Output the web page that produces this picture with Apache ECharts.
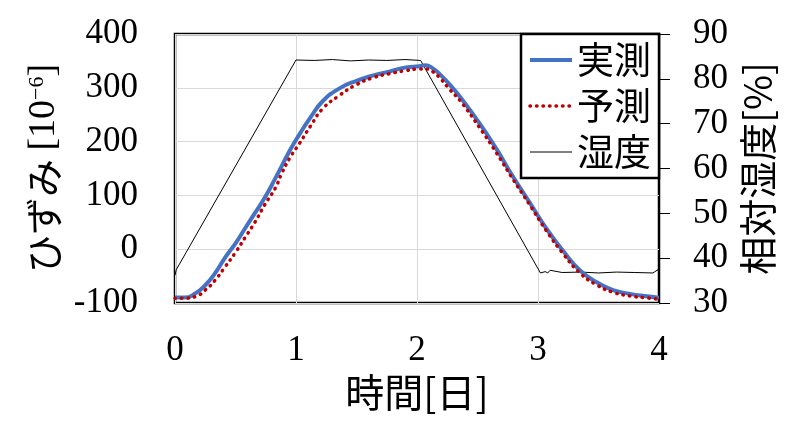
<!DOCTYPE html>
<html><head><meta charset="utf-8">
<script src="https://cdn.jsdelivr.net/npm/echarts@6/dist/echarts.min.js"></script>
<style>html,body{margin:0;padding:0;background:#fff;}#c{width:800px;height:429px;}</style>
</head><body><div id="c"></div>
<script>
// time [day]
const tMeasured = [0,0.08,0.17,0.25,0.33,0.41,0.50,0.58,0.66,0.74,0.83,0.95,1.03,1.12,1.22,1.36,1.50,1.64,1.77,1.91,2.02,2.07,2.13,2.19,2.27,2.36,2.52,2.66,2.79,2.93,3.07,3.21,3.35,3.49,3.62,3.76,3.88,4.0];
const strainMeasured = [-90,-90,-82,-67,-45,-17,11,39,67,95,132,184,214,245,275,299,313,323,330,338,340,342,336,325,306,282,233,185,136,87,38,-4,-40,-62,-76,-83,-87,-90];
const tPredicted = [0,0.08,0.17,0.25,0.33,0.41,0.50,0.58,0.66,0.74,0.83,0.88,0.95,1.03,1.12,1.22,1.36,1.50,1.64,1.77,1.91,2.02,2.07,2.13,2.19,2.27,2.36,2.52,2.66,2.79,2.93,3.07,3.21,3.35,3.49,3.62,3.76,3.88,4.0];
const strainPredicted = [-91,-91,-88,-76,-58,-34,-6,22,50,82,114,140,170,197,229,261,286,306,319,326,332,335,335,330,318,297,275,225,178,131,83,34,-9,-45,-67,-80,-87,-90,-93];
const tHumidity = [0,0.01,0.02,1.0,1.15,1.3,1.45,1.6,1.75,1.9,2.03,3.02,3.06,3.08,3.10,3.2,3.35,3.5,3.65,3.8,3.95,3.99,4.0];
const humidity = [36.2,37.4,37.0,84.2,84.1,84.3,84.0,84.2,84.1,84.3,84.1,36.7,37.0,36.7,37.3,36.8,36.9,36.7,36.9,36.8,36.7,37.4,36.8];
const xTicks = [0,1,2,3,4];
const seriesNames = ['実測','予測','湿度'];

const zip = (a,b)=>a.map((v,i)=>[v,b[i]]);
const serif = 'Liberation Serif';
const jp = 'Noto Sans CJK JP';
const blueStyle = {color:'#4472C4',width:4};
const redStyle = {color:'#C00000',width:3.5,type:[0.5,6],cap:'round'};
const blackStyle = {color:'#000',width:1};
const chart = echarts.init(document.getElementById('c'), null, {renderer:'canvas'});
chart.setOption({
  animation:false,
  backgroundColor:'#fff',
  grid:{left:175,right:141,top:34,bottom:126,show:true,borderColor:'#000',borderWidth:2.5,backgroundColor:'transparent'},
  legend:{
    data:[{name:seriesNames[0],lineStyle:blueStyle},{name:seriesNames[1],lineStyle:redStyle},{name:seriesNames[2],lineStyle:blackStyle}],
    right:141, top:34, orient:'vertical',
    backgroundColor:'#fff', borderColor:'#000', borderWidth:2.5, borderRadius:0,
    padding:[6,8,6,7], itemWidth:42, itemHeight:14, itemGap:6,
    itemStyle:{opacity:0},
    textStyle:{fontFamily:jp,fontSize:37,color:'#000',lineHeight:40}
  },
  xAxis:{type:'value',min:0,max:4,interval:1,
    name:'時間[日]',nameLocation:'middle',nameGap:58,
    nameTextStyle:{fontFamily:jp,fontSize:39,color:'#000'},
    axisLine:{show:false},axisTick:{show:false},
    axisLabel:{fontFamily:serif,fontSize:35,color:'#000',margin:30,
      formatter:v=>xTicks.includes(v)?String(v):''},
    splitLine:{show:true,lineStyle:{color:'#d9d9d9',width:1}}},
  yAxis:[
    {type:'value',min:-100,max:400,interval:100,position:'left',
     name:'{a|ひずみ }{b|[10}{c|−6}{b|]}',nameLocation:'middle',nameGap:106,nameRotate:90,
     nameTextStyle:{rich:{
       a:{fontFamily:jp,fontSize:38,color:'#000'},
       b:{fontFamily:serif,fontSize:38,color:'#000'},
       c:{fontFamily:serif,fontSize:22,color:'#000',padding:[0,0,14,0]}}},
     axisLine:{show:false},axisTick:{show:false},
     axisLabel:{fontFamily:serif,fontSize:35,color:'#000',margin:37},
     splitLine:{show:true,lineStyle:{color:'#d9d9d9',width:1}}},
    {type:'value',min:30,max:90,interval:10,position:'right',
     name:'相対湿度[%]',nameLocation:'middle',nameGap:80,nameRotate:90,
     nameTextStyle:{fontFamily:jp,fontSize:38,color:'#000'},
     axisLine:{show:true,lineStyle:{color:'#000',width:1}},
     axisTick:{show:true,inside:false,length:11,lineStyle:{color:'#000',width:1}},
     axisLabel:{fontFamily:serif,fontSize:35,color:'#000',margin:34},
     splitLine:{show:false}}
  ],
  series:[
    {name:seriesNames[0],type:'line',yAxisIndex:0,data:zip(tMeasured,strainMeasured),smooth:0.5,symbol:'none',
     lineStyle:blueStyle,itemStyle:{color:'#4472C4'},z:3},
    {name:seriesNames[1],type:'line',yAxisIndex:0,data:zip(tPredicted,strainPredicted),smooth:0.5,symbol:'none',
     lineStyle:redStyle,itemStyle:{color:'#C00000'},z:4},
    {name:seriesNames[2],type:'line',yAxisIndex:1,data:zip(tHumidity,humidity),symbol:'none',
     lineStyle:blackStyle,itemStyle:{color:'#000'},z:2}
  ]
});
</script></body></html>
